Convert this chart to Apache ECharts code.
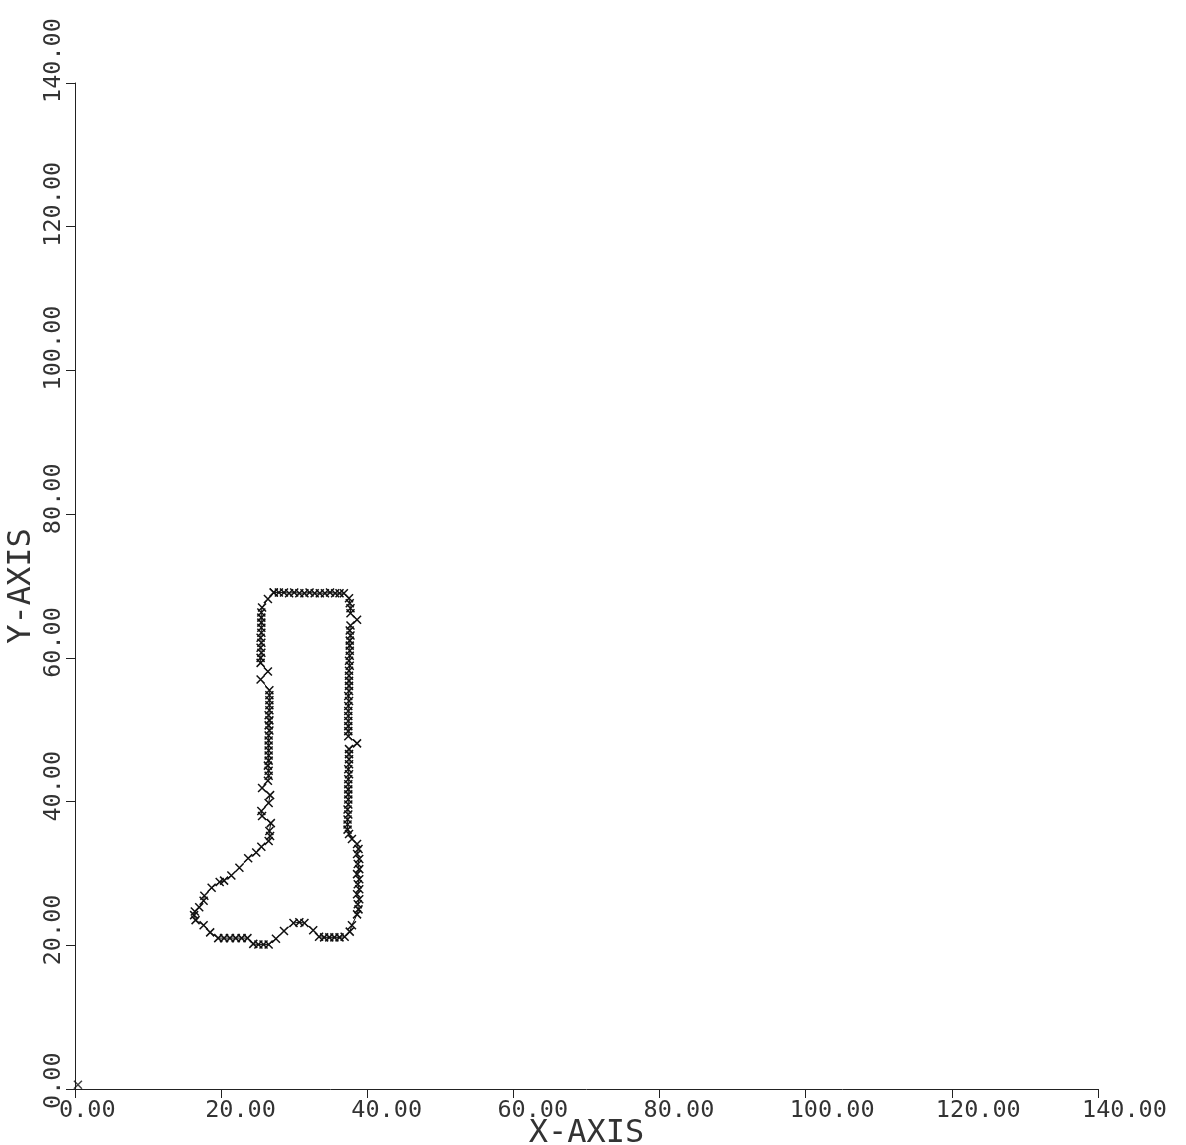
<!DOCTYPE html>
<html>
<head>
<meta charset="utf-8">
<script src="https://cdn.jsdelivr.net/npm/echarts@6/dist/echarts.min.js"></script>
<style>
html,body{margin:0;padding:0;background:#ffffff;overflow:hidden;}
#chart{width:1186px;height:1145px;}
</style>
</head>
<body>
<div id="chart"></div>
<script>
// Tick values and labels
const tickValues = [0, 20, 40, 60, 80, 100, 120, 140];
const tickLabels = ['0.00', '20.00', '40.00', '60.00', '80.00', '100.00', '120.00', '140.00'];

// Boot outline, traced clockwise from top-left
const bootX = [
  27.2, 27.9, 28.6, 29.3, 30.0, 30.7, 31.4, 32.1, 32.8, 33.5, 34.2, 34.9, 35.6, 36.2, 36.8,
  37.5, 37.6, 37.7, 37.7, 38.6,
  37.7, 37.6, 37.7, 37.6, 37.6, 37.6, 37.6, 37.5, 37.6, 37.5, 37.5, 37.5, 37.5, 37.5, 37.4, 37.5, 37.4, 37.4, 37.4, 37.4, 37.4, 37.4, 37.4,
  38.6,
  37.5, 37.5, 37.5, 37.5, 37.4, 37.5, 37.4, 37.4, 37.4, 37.4, 37.4, 37.4, 37.3, 37.4, 37.3, 37.3, 37.3,
  37.5, 37.9, 38.6,
  38.8, 38.6, 38.9, 38.7, 38.9, 38.6, 38.9, 38.7, 38.9, 38.6, 38.9, 38.7, 38.8, 38.6,
  37.9, 37.6,
  36.9, 36.2, 35.5, 34.8, 34.1, 33.4,
  32.6,
  31.4, 30.7, 29.9,
  28.6, 27.5,
  26.5, 25.8, 25.1, 24.4,
  23.6, 22.8, 22.0, 21.2, 20.4, 19.6,
  18.5, 17.6, 16.5, 16.3, 16.4, 17.0, 17.6, 17.7, 18.7, 19.8, 20.4, 21.4, 22.5, 23.7, 24.8, 25.5, 26.5,
  26.7, 26.6, 26.8, 25.6, 25.5, 26.5, 26.7, 25.6,
  26.4, 26.5, 26.5, 26.4, 26.5, 26.5, 26.5, 26.5, 26.5, 26.5, 26.6, 26.5, 26.6, 26.5, 26.6, 26.6, 26.6, 26.6, 26.6,
  25.4, 26.4,
  25.4, 25.4, 25.5, 25.4, 25.5, 25.4, 25.5, 25.5, 25.5, 25.5, 25.5, 25.6,
  26.4, 27.2
];
const bootY = [
  69.1, 69.1, 69.1, 69.0, 69.1, 69.0, 69.0, 69.1, 69.0, 69.0, 69.0, 69.1, 69.0, 69.0, 69.0,
  68.3, 67.6, 66.9, 66.2, 65.3,
  64.5, 63.8, 63.1, 62.4, 61.7, 61.0, 60.3, 59.6, 58.9, 58.2, 57.5, 56.8, 56.1, 55.4, 54.7, 54.0, 53.3, 52.6, 51.9, 51.2, 50.5, 49.8, 49.1,
  48.1,
  47.3, 46.6, 45.9, 45.2, 44.5, 43.8, 43.1, 42.4, 41.7, 41.0, 40.3, 39.6, 38.9, 38.2, 37.5, 36.8, 36.1,
  35.5, 34.8, 34.1,
  33.4, 32.7, 32.0, 31.3, 30.6, 29.9, 29.2, 28.5, 27.8, 27.1, 26.4, 25.7, 25.0, 24.3,
  22.8, 21.9,
  21.2, 21.1, 21.1, 21.1, 21.1, 21.2,
  22.1,
  23.1, 23.2, 23.1,
  22.0, 20.9,
  20.1, 20.1, 20.1, 20.2,
  21.0, 21.0, 21.0, 21.0, 21.0, 21.0,
  21.8, 22.8, 23.5, 24.2, 24.7, 25.3, 26.2, 26.9, 28.0, 28.8, 29.0, 29.7, 30.8, 32.1, 32.9, 33.7, 34.5,
  35.2, 35.9, 37.0, 38.0, 38.7, 39.8, 40.9, 41.9,
  42.9, 43.6, 44.3, 45.0, 45.7, 46.4, 47.1, 47.8, 48.5, 49.2, 49.9, 50.6, 51.3, 52.0, 52.7, 53.4, 54.1, 54.8, 55.5,
  57.0, 58.1,
  59.3, 60.0, 60.7, 61.4, 62.1, 62.8, 63.5, 64.2, 64.9, 65.6, 66.3, 67.0,
  68.2, 69.1
];

// Lone marker near the origin
const originX = [0.4];
const originY = [0.6];

const FONT = 'DejaVu Sans Mono';
const INK = '#222222';
const CROSS = 'path://M0,0L10,10M10,0L0,10';

const bootData = bootX.map((x, i) => [x, bootY[i]]);
const originData = originX.map((x, i) => [x, originY[i]]);
const labelOf = v => {
  const i = tickValues.indexOf(v);
  return i >= 0 ? tickLabels[i] : '';
};

const chart = echarts.init(document.getElementById('chart'), null, {renderer: 'canvas'});
chart.setOption({
  animation: false,
  backgroundColor: '#ffffff',
  grid: {left: 75, right: 88, top: 83, bottom: 56, containLabel: false, outerBoundsMode: 'none'},
  xAxis: {
    type: 'value', min: 0, max: 140, interval: 20,
    axisLine: {show: true, onZero: false, lineStyle: {color: INK, width: 1}},
    axisTick: {show: true, inside: false, length: 9, lineStyle: {color: INK, width: 1}},
    splitLine: {show: false},
    axisLabel: {
      show: true, interval: 0, formatter: labelOf, align: 'left', margin: 10,
      padding: [0, 0, 0, -16], fontFamily: FONT, fontSize: 23.5, color: '#333333'
    },
    name: 'X-AXIS', nameLocation: 'middle', nameGap: 29, nameMoveOverlap: false,
    nameTextStyle: {fontFamily: FONT, fontSize: 32, color: '#333333'}
  },
  yAxis: {
    type: 'value', min: 0, max: 140, interval: 20,
    axisLine: {show: true, onZero: false, lineStyle: {color: INK, width: 1}},
    axisTick: {show: true, inside: false, length: 9, lineStyle: {color: INK, width: 1}},
    splitLine: {show: false},
    axisLabel: {
      show: true, interval: 0, formatter: labelOf, rotate: 90, align: 'left', verticalAlign: 'bottom',
      margin: 9, padding: [0, 0, 0, -20], fontFamily: FONT, fontSize: 23.5, color: '#333333'
    },
    name: 'Y-AXIS', nameLocation: 'middle', nameGap: 37, nameRotate: 90, nameMoveOverlap: false,
    nameTextStyle: {fontFamily: FONT, fontSize: 32, color: '#333333'}
  },
  series: [
    {
      type: 'line',
      data: bootData,
      symbol: CROSS,
      symbolSize: 8,
      showSymbol: true,
      showAllSymbol: true,
      lineStyle: {color: '#111111', width: 1},
      itemStyle: {color: '#111111', borderColor: '#111111', borderWidth: 1.5},
      emphasis: {disabled: true},
      silent: true,
      z: 3
    },
    {
      type: 'scatter',
      data: originData,
      symbol: CROSS,
      symbolSize: 8,
      itemStyle: {color: '#111111', borderColor: '#111111', borderWidth: 1.5},
      emphasis: {disabled: true},
      silent: true,
      z: 3
    }
  ]
});
</script>
</body>
</html>
